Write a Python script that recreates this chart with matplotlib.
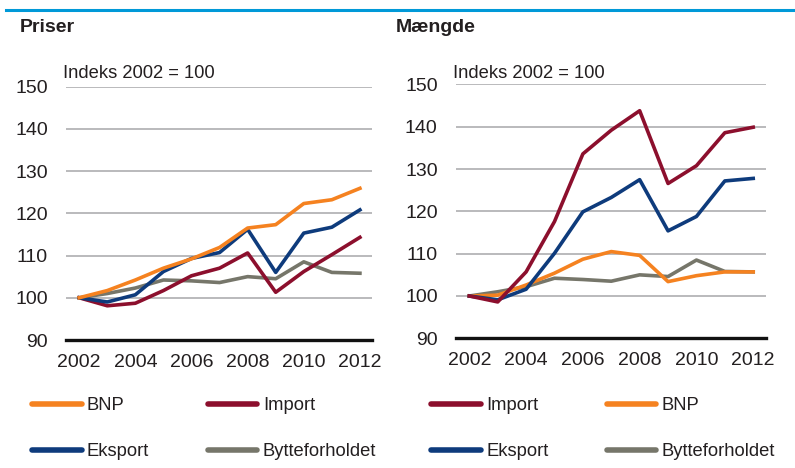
import matplotlib
matplotlib.use("Agg")
import matplotlib.pyplot as plt
from matplotlib import font_manager
from matplotlib.lines import Line2D

# Data (index 2002 = 100)
years = [2002, 2003, 2004, 2005, 2006, 2007, 2008, 2009, 2010, 2011, 2012]

# Priser
pris_bnp = [100, 101.7, 104.2, 107.0, 109.2, 111.9, 116.5, 117.3, 122.3, 123.2, 125.9]
pris_eksport = [100, 99.0, 100.7, 106.2, 109.3, 110.7, 116.2, 106.0, 115.3, 116.7, 120.8]
pris_import = [100, 98.1, 98.7, 101.7, 105.2, 107.0, 110.6, 101.3, 106.2, 110.2, 114.3]
pris_bytte = [100, 101.0, 102.3, 104.2, 104.0, 103.6, 105.0, 104.5, 108.5, 106.0, 105.8]

# Mængde
mgd_import = [100, 98.6, 105.7, 117.6, 133.6, 139.2, 143.8, 126.6, 130.8, 138.6, 139.9]
mgd_eksport = [100, 99.1, 101.6, 110.1, 119.9, 123.3, 127.5, 115.4, 118.8, 127.2, 127.8]
mgd_bnp = [100, 100.2, 102.6, 105.4, 108.7, 110.5, 109.6, 103.4, 104.8, 105.7, 105.7]
mgd_bytte = [100, 101.0, 102.2, 104.2, 103.9, 103.5, 105.0, 104.6, 108.5, 105.8, 105.7]

yticks = [90, 100, 110, 120, 130, 140, 150]
xticks = [2002, 2004, 2006, 2008, 2010, 2012]

C_BNP = "#F58220"
C_IMP = "#8C0F2D"
C_EKS = "#0E3B7C"
C_BYT = "#76766A"
C_GRID = "#A7A7AA"
C_TXT = "#231F20"

names = {f.name for f in font_manager.fontManager.ttflist}
narrow = "Liberation Sans Narrow" in names
family = "Liberation Sans Narrow" if narrow else "Liberation Sans"
plt.rcParams["font.family"] = [family, "DejaVu Sans"]
FS_TICK = 15 if narrow else 14
FS_TXT = 15 if narrow else 13.2

W, H = 795, 468
fig = plt.figure(figsize=(W / 100, H / 100), dpi=100)


def px_axes(x0, x1, ytop, ybot):
    return fig.add_axes([x0 / W, 1 - ybot / H, (x1 - x0) / W, (ybot - ytop) / H])


def style_axes(ax, xlim):
    ax.set_xlim(*xlim)
    ax.set_ylim(90, 150)
    ax.set_yticks(yticks)
    ax.set_xticks(xticks)
    ax.set_xticklabels([str(x) for x in xticks])
    for s in ["top", "right", "left"]:
        ax.spines[s].set_visible(False)
    ax.spines["bottom"].set_color("#111111")
    ax.spines["bottom"].set_linewidth(2.4)
    ax.spines["bottom"].set_zorder(5)
    for y in yticks[1:]:
        ax.axhline(y, color=C_GRID, linewidth=1.1, zorder=0)
    ax.tick_params(axis="both", length=0, labelsize=FS_TICK, colors=C_TXT)
    ax.tick_params(axis="y", pad=13)
    ax.tick_params(axis="x", pad=10)
    ax.set_facecolor("none")


lw = 2.6

# Left panel: Priser
ax1 = px_axes(66, 372, 86.5, 340)
style_axes(ax1, (2001.53, 2012.43))
ax1.plot(years, pris_bytte, color=C_BYT, lw=lw, label="Bytteforholdet")
ax1.plot(years, pris_import, color=C_IMP, lw=lw, label="Import")
ax1.plot(years, pris_eksport, color=C_EKS, lw=lw, label="Eksport")
ax1.plot(years, pris_bnp, color=C_BNP, lw=lw, label="BNP")

# Right panel: Mængde
ax2 = px_axes(455.7, 766, 84.5, 338.3)
style_axes(ax2, (2001.52, 2012.45))
ax2.plot(years, mgd_bytte, color=C_BYT, lw=lw, label="Bytteforholdet")
ax2.plot(years, mgd_bnp, color=C_BNP, lw=lw, label="BNP")
ax2.plot(years, mgd_eksport, color=C_EKS, lw=lw, label="Eksport")
ax2.plot(years, mgd_import, color=C_IMP, lw=lw, label="Import")

# Titles and notes
fig.text(20 / W, 1 - 27 / H, "Priser", fontsize=14, fontweight="bold", color=C_TXT, va="center")
fig.text(396 / W, 1 - 27 / H, "Mængde", fontsize=14, fontweight="bold", color=C_TXT, va="center")
fig.text(63 / W, 1 - 73 / H, "Indeks 2002 = 100", fontsize=FS_TXT, color=C_TXT, va="center")
fig.text(453 / W, 1 - 73 / H, "Indeks 2002 = 100", fontsize=FS_TXT, color=C_TXT, va="center")

# Top rule
fig.add_artist(Line2D([6 / W, 1], [1 - 10 / H, 1 - 10 / H], color="#0099D8", lw=2.2))


def handle(c, lab):
    return Line2D([0], [0], color=c, lw=4, solid_capstyle="round", label=lab)


leg_kw = dict(ncol=2, frameon=False, fontsize=FS_TXT, handlelength=2.7, handletextpad=0.3,
              labelspacing=1.6, columnspacing=3.2, borderpad=0, borderaxespad=0,
              loc="upper left", labelcolor=C_TXT)

h_left = [handle(C_BNP, "BNP"), handle(C_EKS, "Eksport"),
          handle(C_IMP, "Import"), handle(C_BYT, "Bytteforholdet")]
fig.legend(handles=h_left, bbox_to_anchor=(32 / W, 1 - 397 / H), **leg_kw)

h_right = [handle(C_IMP, "Import"), handle(C_EKS, "Eksport"),
           handle(C_BNP, "BNP"), handle(C_BYT, "Bytteforholdet")]
fig.legend(handles=h_right, bbox_to_anchor=(431 / W, 1 - 397 / H), **leg_kw)

fig.savefig("out.png", dpi=100)
